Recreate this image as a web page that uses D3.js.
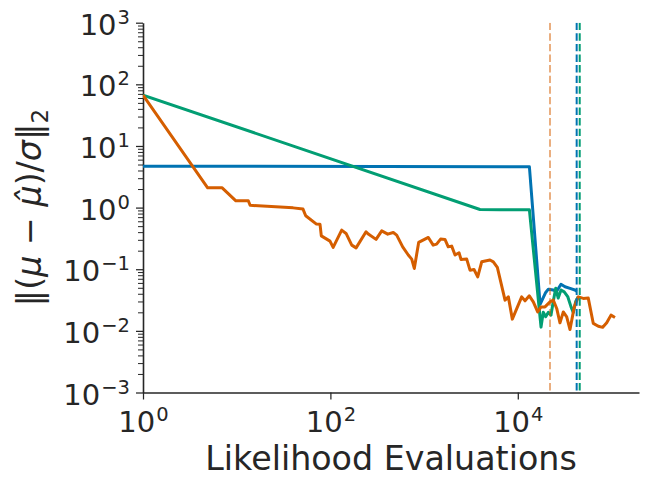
<!DOCTYPE html>
<html>
<head>
<meta charset="utf-8">
<script src="https://cdn.jsdelivr.net/npm/d3@7"></script>
<style>
  body { margin: 0; background: #fff; }
  text { font-family: "DejaVu Sans", sans-serif; fill: #262626; }
</style>
</head>
<body>
<div id="canvas"></div>
<script>
// values (x = likelihood evaluations, y = error)
const blueEvals = [1, 13300, 17300, 19850, 21200, 23900, 26000, 28900, 31900, 36100, 40700, 42500];
const blueErr = [4.7, 4.6, 0.027, 0.042, 0.0475, 0.046, 0.044, 0.057, 0.052, 0.049, 0.046, 0.044];

const greenEvals = [1, 3950, 6500, 13300, 17700, 18700, 19850, 21200, 22600, 23900, 25400, 27000, 28900, 31300, 34100, 37000, 39100, 41500, 44200];
const greenErr = [67, 0.93, 0.92, 0.92, 0.0115, 0.020, 0.017, 0.020, 0.018, 0.030, 0.049, 0.034, 0.046, 0.043, 0.036, 0.0245, 0.020, 0.030, 0.036];

const orangeEvals = [1, 4.9, 7, 9.8, 13.3, 13.9, 40, 51, 54.5, 71, 77.5, 80, 99, 107, 132, 147, 169, 188, 240, 254,
    307, 353, 409, 469, 510, 591, 678, 738, 786, 875, 1110, 1250, 1360, 1500, 1670, 1810, 1970, 2140, 2360, 2480,
    2850, 3090, 3410, 3735, 4120, 5050, 5480, 6050, 7310, 7930, 8740, 11000, 11950, 13270, 14640, 16300, 17700, 19500, 22080, 23930,
    26020, 28200, 30600, 33270, 36070, 40090, 44240, 50030, 56500, 63940, 72300, 80600, 88900, 98800, 109000];
const orangeErr = [67, 2.09, 2.09, 1.29, 1.29, 1.09, 0.99, 0.946, 0.736, 0.54, 0.535, 0.348, 0.286, 0.226, 0.431, 0.381, 0.246, 0.222, 0.405, 0.372,
    0.305, 0.42, 0.371, 0.395, 0.358, 0.231, 0.17, 0.146, 0.103, 0.272, 0.328, 0.246, 0.255, 0.308, 0.305, 0.231, 0.237, 0.17, 0.185, 0.144,
    0.146, 0.0966, 0.099, 0.0753, 0.132, 0.141, 0.132, 0.107, 0.0315, 0.0356, 0.0155, 0.0356, 0.0307, 0.037, 0.0296, 0.0203, 0.0245, 0.0245, 0.0296, 0.0315,
    0.0231, 0.0135, 0.0203, 0.0169, 0.0105, 0.0245, 0.0356, 0.0336, 0.034, 0.0132, 0.0119, 0.0114, 0.0135, 0.018, 0.0165];

// evaluation count where each run stopped (dashed verticals)
const stopEvals = [22080, 42500, 45800];

const xTicks = [1, 1e2, 1e4];
const yTicks = [1e-3, 1e-2, 1e-1, 1, 1e1, 1e2, 1e3];

const dims = { width: 648, height: 487 };
const margin = { top: 22.7, right: 9, bottom: 94.5, left: 143 };
const w = dims.width - margin.left - margin.right;
const h = dims.height - margin.top - margin.bottom;

const svg = d3.select('#canvas')
    .append('svg')
    .attr('width', dims.width)
    .attr('height', dims.height);

const graph = svg.append('g')
    .attr('transform', `translate(${margin.left},${margin.top})`);

const x = d3.scaleLog().domain([1, 196600]).range([0, w]);
const y = d3.scaleLog().domain([1e-3, 1e3]).range([h, 0]);

svg.append('defs').append('clipPath').attr('id', 'plot')
    .append('rect').attr('width', w).attr('height', h);

// superscript tick label: 10^e
const expLabel = (sel, v) => {
    const e = Math.round(Math.log10(v));
    sel.append('tspan').text('10');
    sel.append('tspan')
        .attr('dx', 1)
        .attr('dy', -11)
        .attr('font-size', 19.5)
        .text(e < 0 ? '\u2212' + (-e) : e);
};

// y axis: minor then major
const yMinor = [];
yTicks.slice(0, -1).forEach(t => d3.range(2, 10).forEach(k => yMinor.push(t * k)));

const yAxisMinor = graph.append('g')
    .call(d3.axisLeft(y).tickValues(yMinor).tickSize(5).tickSizeOuter(0).tickFormat(''));
yAxisMinor.select('.domain').remove();
yAxisMinor.selectAll('line').attr('stroke', '#262626').attr('stroke-width', 1);

const yAxis = graph.append('g')
    .call(d3.axisLeft(y).tickValues(yTicks).tickSize(7).tickSizeOuter(0).tickFormat(''));
yAxis.selectAll('line').attr('stroke', '#262626').attr('stroke-width', 1.25);
yAxis.select('.domain').attr('stroke', '#262626').attr('stroke-width', 1.6);
yAxis.selectAll('.tick').append('text')
    .attr('x', -13)
    .attr('y', 11.5)
    .attr('text-anchor', 'end')
    .attr('font-size', 29)
    .each(function (d) { expLabel(d3.select(this), d); });

// x axis
const xAxis = graph.append('g')
    .attr('transform', `translate(0,${h})`)
    .call(d3.axisBottom(x).tickValues(xTicks).tickSize(7).tickSizeOuter(0).tickFormat(''));
xAxis.selectAll('line').attr('stroke', '#262626').attr('stroke-width', 1.25);
xAxis.select('.domain').attr('stroke', '#262626').attr('stroke-width', 1.6);
xAxis.selectAll('.tick').append('text')
    .attr('y', 39)
    .attr('text-anchor', 'middle')
    .attr('font-size', 29)
    .each(function (d) { expLabel(d3.select(this), d); });

// axis titles
svg.append('text')
    .attr('x', margin.left + w / 2)
    .attr('y', 470)
    .attr('text-anchor', 'middle')
    .attr('font-size', 33.3)
    .text('Likelihood Evaluations');

const yLabel = svg.append('text')
    .attr('transform', `translate(41,${margin.top + h / 2}) rotate(-90)`)
    .attr('text-anchor', 'middle')
    .attr('font-size', 33.3);
yLabel.append('tspan').text('\u2016(');
yLabel.append('tspan').attr('font-style', 'italic').text('\u03bc');
yLabel.append('tspan').text(' \u2212 ');
yLabel.append('tspan').attr('font-style', 'italic').text('\u03bc\u0302');
yLabel.append('tspan').text(')/');
yLabel.append('tspan').attr('font-style', 'italic').text('\u03c3');
yLabel.append('tspan').text('\u2016');
yLabel.append('tspan').attr('font-size', 23).attr('dy', 7).text('2');

// lines
const line = d3.line()
    .x(d => x(d[0]))
    .y(d => y(d[1]));

const runs = [
    { color: '#0173b2', data: d3.zip(blueEvals, blueErr) },
    { color: '#029e73', data: d3.zip(greenEvals, greenErr) },
    { color: '#d55e00', data: d3.zip(orangeEvals, orangeErr) }
];

const plot = graph.append('g').attr('clip-path', 'url(#plot)');

plot.selectAll('.run')
    .data(runs)
    .enter()
    .append('path')
    .attr('class', 'run')
    .attr('d', d => line(d.data))
    .attr('fill', 'none')
    .attr('stroke', d => d.color)
    .attr('stroke-width', 3)
    .attr('stroke-linejoin', 'round');

const stops = [
    { at: stopEvals[0], color: '#d55e00', alpha: 0.5 },
    { at: stopEvals[1], color: '#0173b2', alpha: 1 },
    { at: stopEvals[2], color: '#029e73', alpha: 1 }
];

plot.selectAll('.stop')
    .data(stops)
    .enter()
    .append('line')
    .attr('class', 'stop')
    .attr('x1', d => x(d.at))
    .attr('x2', d => x(d.at))
    .attr('y1', 0)
    .attr('y2', h)
    .attr('stroke', d => d.color)
    .attr('stroke-opacity', d => d.alpha)
    .attr('stroke-width', 2)
    .attr('stroke-dasharray', '7.4,3.2');
</script>
</body>
</html>
